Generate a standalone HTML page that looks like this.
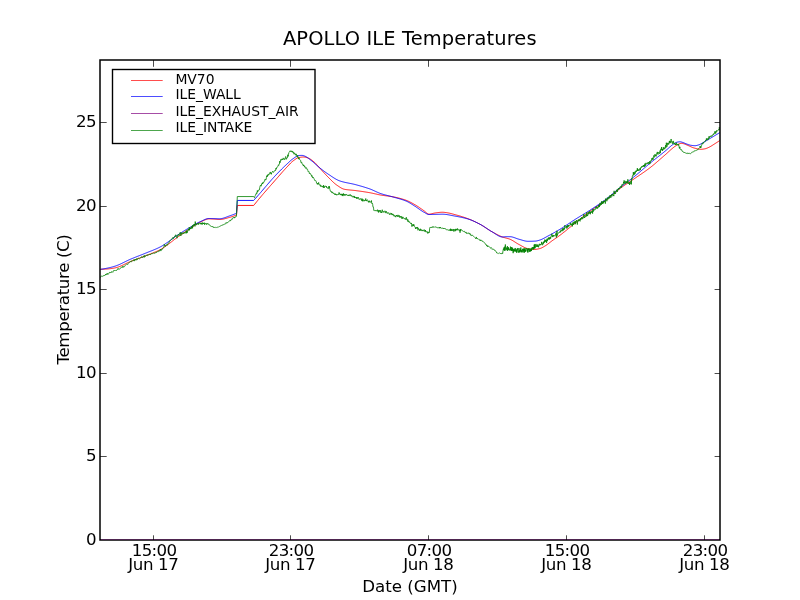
<!DOCTYPE html>
<html><head><meta charset="utf-8"><title>APOLLO ILE Temperatures</title>
<style>
html,body{margin:0;padding:0;background:#fff;}
svg{display:block;}
text{font-family:"DejaVu Sans","Liberation Sans",sans-serif;fill:#000;}
</style></head>
<body>
<svg width="800" height="600" viewBox="0 0 800 600">
<rect x="0" y="0" width="800" height="600" fill="#ffffff"/>
<defs><clipPath id="ax"><rect x="100" y="60" width="620" height="480"/></clipPath></defs>
<g clip-path="url(#ax)" fill="none" stroke-width="0.9" stroke-linejoin="round">
<polyline stroke="#ff0000" points="100.50,269.30 101.50,269.28 102.50,269.25 103.50,269.21 104.50,269.15 105.50,269.09 106.50,269.02 107.50,268.94 108.50,268.86 109.50,268.76 110.50,268.64 111.50,268.51 112.50,268.35 113.50,268.18 114.50,268.00 115.50,267.80 116.50,267.56 117.50,267.28 118.50,266.94 119.50,266.56 120.50,266.15 121.50,265.71 122.50,265.25 123.50,264.77 124.50,264.28 125.50,263.79 126.50,263.30 127.50,262.82 128.50,262.36 129.50,261.92 130.50,261.50 131.50,261.10 132.50,260.72 133.50,260.33 134.50,259.95 135.50,259.58 136.50,259.21 137.50,258.84 138.50,258.46 139.50,258.09 140.50,257.72 141.50,257.35 142.50,256.97 143.50,256.58 144.50,256.20 145.50,255.80 146.50,255.41 147.50,255.02 148.50,254.63 149.50,254.25 150.50,253.87 151.50,253.48 152.50,253.09 153.50,252.69 154.50,252.28 155.50,251.86 156.50,251.43 157.50,250.98 158.50,250.51 159.50,250.02 160.50,249.50 161.50,248.94 162.50,248.33 163.50,247.68 164.50,247.00 165.50,246.30 166.50,245.58 167.50,244.86 168.50,244.14 169.50,243.39 170.50,242.61 171.50,241.82 172.50,241.02 173.50,240.23 174.50,239.45 175.50,238.70 176.50,237.96 177.50,237.23 178.50,236.50 179.50,235.78 180.50,235.06 181.50,234.35 182.50,233.64 183.50,232.94 184.50,232.25 185.50,231.56 186.50,230.87 187.50,230.19 188.50,229.52 189.50,228.86 190.50,228.20 191.50,227.54 192.50,226.86 193.50,226.19 194.50,225.51 195.50,224.85 196.50,224.21 197.50,223.60 198.50,223.02 199.50,222.48 200.50,222.00 201.50,221.53 202.50,221.03 203.50,220.54 204.50,220.08 205.50,219.66 206.50,219.31 207.50,219.06 208.50,218.92 209.50,218.90 210.50,218.93 211.50,218.97 212.50,219.02 213.50,219.07 214.50,219.13 215.50,219.21 216.50,219.31 217.50,219.40 218.50,219.47 219.50,219.50 220.50,219.47 221.50,219.37 222.50,219.22 223.50,219.02 224.50,218.79 225.50,218.53 226.50,218.25 227.50,217.96 228.50,217.67 229.50,217.39 230.50,217.11 231.50,216.81 232.50,216.48 233.50,216.13 234.50,215.76 235.50,215.39 236.50,215.00 237.30,205.45 253.70,205.45 254.70,204.21 255.70,202.97 256.70,201.74 257.70,200.52 258.70,199.31 259.70,198.11 260.70,196.92 261.70,195.74 262.70,194.57 263.70,193.40 264.70,192.24 265.70,191.09 266.70,189.94 267.70,188.80 268.70,187.66 269.70,186.52 270.70,185.38 271.70,184.25 272.70,183.11 273.70,181.98 274.70,180.84 275.70,179.70 276.70,178.56 277.70,177.41 278.70,176.26 279.70,175.11 280.70,173.96 281.70,172.83 282.70,171.70 283.70,170.58 284.70,169.47 285.70,168.39 286.70,167.32 287.70,166.25 288.70,165.16 289.70,164.08 290.70,163.04 291.70,162.08 292.70,161.23 293.70,160.48 294.70,159.74 295.70,159.03 296.70,158.41 297.70,157.90 298.70,157.56 299.70,157.38 300.70,157.22 301.70,157.10 302.70,157.02 303.70,157.00 304.70,157.10 305.70,157.31 306.70,157.59 307.70,157.90 308.70,158.26 309.70,158.76 310.70,159.38 311.70,160.08 312.70,160.85 313.70,161.66 314.70,162.52 315.70,163.53 316.70,164.64 317.70,165.79 318.70,166.92 319.70,168.01 320.70,169.11 321.70,170.22 322.70,171.33 323.70,172.44 324.70,173.54 325.70,174.62 326.70,175.68 327.70,176.70 328.70,177.70 329.70,178.71 330.70,179.71 331.70,180.71 332.70,181.67 333.70,182.60 334.70,183.48 335.70,184.30 336.70,185.04 337.70,185.73 338.70,186.41 339.70,187.07 340.70,187.69 341.70,188.25 342.70,188.73 343.70,189.10 344.70,189.34 345.70,189.51 346.70,189.66 347.70,189.78 348.70,189.89 349.70,189.98 350.70,190.07 351.70,190.16 352.70,190.25 353.70,190.35 354.70,190.46 355.70,190.59 356.70,190.72 357.70,190.86 358.70,190.99 359.70,191.13 360.70,191.27 361.70,191.41 362.70,191.56 363.70,191.71 364.70,191.87 365.70,192.02 366.70,192.19 367.70,192.35 368.70,192.52 369.70,192.70 370.70,192.88 371.70,193.08 372.70,193.29 373.70,193.52 374.70,193.75 375.70,193.98 376.70,194.21 377.70,194.44 378.70,194.65 379.70,194.85 380.70,195.04 381.70,195.20 382.70,195.36 383.70,195.50 384.70,195.64 385.70,195.77 386.70,195.90 387.70,196.03 388.70,196.16 389.70,196.30 390.70,196.44 391.70,196.60 392.70,196.76 393.70,196.94 394.70,197.14 395.70,197.34 396.70,197.56 397.70,197.80 398.70,198.04 399.70,198.30 400.70,198.57 401.70,198.86 402.70,199.16 403.70,199.47 404.70,199.80 405.70,200.14 406.70,200.51 407.70,200.92 408.70,201.37 409.70,201.85 410.70,202.36 411.70,202.90 412.70,203.45 413.70,204.01 414.70,204.58 415.70,205.16 416.70,205.77 417.70,206.42 418.70,207.08 419.70,207.77 420.70,208.46 421.70,209.16 422.70,209.86 423.70,210.55 424.70,211.29 425.70,212.18 426.70,213.07 427.70,213.79 428.70,214.18 429.70,214.16 430.70,214.01 431.70,213.78 432.70,213.51 433.70,213.25 434.70,213.05 435.70,212.90 436.70,212.76 437.70,212.63 438.70,212.50 439.70,212.40 440.70,212.31 441.70,212.26 442.70,212.25 443.70,212.30 444.70,212.40 445.70,212.53 446.70,212.69 447.70,212.85 448.70,213.02 449.70,213.23 450.70,213.47 451.70,213.73 452.70,214.00 453.70,214.28 454.70,214.55 455.70,214.83 456.70,215.10 457.70,215.39 458.70,215.67 459.70,215.96 460.70,216.26 461.70,216.57 462.70,216.88 463.70,217.20 464.70,217.53 465.70,217.87 466.70,218.22 467.70,218.59 468.70,218.97 469.70,219.36 470.70,219.77 471.70,220.20 472.70,220.64 473.70,221.10 474.70,221.57 475.70,222.05 476.70,222.55 477.70,223.05 478.70,223.57 479.70,224.09 480.70,224.63 481.70,225.21 482.70,225.82 483.70,226.45 484.70,227.10 485.70,227.77 486.70,228.43 487.70,229.10 488.70,229.75 489.70,230.39 490.70,231.00 491.70,231.58 492.70,232.14 493.70,232.69 494.70,233.25 495.70,233.79 496.70,234.33 497.70,234.85 498.70,235.35 499.70,235.83 500.70,236.27 501.70,236.69 502.70,237.07 503.70,237.40 504.70,237.69 505.70,237.96 506.70,238.22 507.70,238.49 508.70,238.79 509.70,239.14 510.70,239.55 511.70,240.05 512.70,240.61 513.70,241.22 514.70,241.86 515.70,242.51 516.70,243.16 517.70,243.77 518.70,244.34 519.70,244.87 520.70,245.42 521.70,245.98 522.70,246.53 523.70,247.06 524.70,247.55 525.70,247.99 526.70,248.36 527.70,248.64 528.70,248.84 529.70,249.03 530.70,249.20 531.70,249.35 532.70,249.45 533.70,249.50 534.70,249.48 535.70,249.39 536.70,249.24 537.70,249.05 538.70,248.82 539.70,248.58 540.70,248.28 541.70,247.87 542.70,247.35 543.70,246.77 544.70,246.18 545.70,245.57 546.70,244.90 547.70,244.17 548.70,243.41 549.70,242.63 550.70,241.85 551.70,241.09 552.70,240.36 553.70,239.65 554.70,238.96 555.70,238.28 556.70,237.59 557.70,236.90 558.70,236.19 559.70,235.47 560.70,234.73 561.70,233.97 562.70,233.20 563.70,232.41 564.70,231.62 565.70,230.82 566.70,230.01 567.70,229.20 568.70,228.38 569.70,227.56 570.70,226.74 571.70,225.92 572.70,225.11 573.70,224.30 574.70,223.49 575.70,222.69 576.70,221.88 577.70,221.07 578.70,220.25 579.70,219.44 580.70,218.62 581.70,217.80 582.70,216.99 583.70,216.18 584.70,215.37 585.70,214.57 586.70,213.78 587.70,213.00 588.70,212.23 589.70,211.47 590.70,210.73 591.70,210.01 592.70,209.30 593.70,208.60 594.70,207.91 595.70,207.23 596.70,206.55 597.70,205.88 598.70,205.20 599.70,204.52 600.70,203.84 601.70,203.14 602.70,202.43 603.70,201.71 604.70,200.98 605.70,200.22 606.70,199.43 607.70,198.63 608.70,197.81 609.70,196.98 610.70,196.14 611.70,195.29 612.70,194.44 613.70,193.59 614.70,192.74 615.70,191.91 616.70,191.08 617.70,190.28 618.70,189.49 619.70,188.72 620.70,187.98 621.70,187.26 622.70,186.55 623.70,185.85 624.70,185.16 625.70,184.48 626.70,183.81 627.70,183.14 628.70,182.48 629.70,181.82 630.70,181.15 631.70,180.49 632.70,179.82 633.70,179.14 634.70,178.46 635.70,177.77 636.70,177.08 637.70,176.40 638.70,175.72 639.70,175.05 640.70,174.37 641.70,173.69 642.70,173.01 643.70,172.32 644.70,171.62 645.70,170.92 646.70,170.20 647.70,169.47 648.70,168.73 649.70,167.98 650.70,167.21 651.70,166.42 652.70,165.61 653.70,164.78 654.70,163.94 655.70,163.09 656.70,162.23 657.70,161.36 658.70,160.49 659.70,159.61 660.70,158.74 661.70,157.86 662.70,156.99 663.70,156.12 664.70,155.26 665.70,154.39 666.70,153.50 667.70,152.59 668.70,151.67 669.70,150.75 670.70,149.84 671.70,148.96 672.70,148.11 673.70,147.30 674.70,146.55 675.70,145.87 676.70,145.21 677.70,144.61 678.70,144.12 679.70,143.73 680.70,143.40 681.70,143.31 682.70,143.46 683.70,143.72 684.70,144.02 685.70,144.44 686.70,144.90 687.70,145.33 688.70,145.76 689.70,146.21 690.70,146.66 691.70,147.10 692.70,147.51 693.70,147.87 694.70,148.17 695.70,148.42 696.70,148.66 697.70,148.89 698.70,149.09 699.70,149.23 700.70,149.30 701.70,149.28 702.70,149.18 703.70,149.04 704.70,148.86 705.70,148.63 706.70,148.28 707.70,147.86 708.70,147.41 709.70,146.91 710.70,146.36 711.70,145.76 712.70,145.13 713.70,144.48 714.70,143.83 715.70,143.19 716.70,142.56 717.70,141.92 718.70,141.26 719.70,140.60 720.00,140.40"/>
<polyline stroke="#0000ff" points="100.50,269.30 101.50,269.17 102.50,269.02 103.50,268.86 104.50,268.68 105.50,268.50 106.50,268.31 107.50,268.10 108.50,267.89 109.50,267.67 110.50,267.43 111.50,267.18 112.50,266.91 113.50,266.62 114.50,266.32 115.50,266.00 116.50,265.66 117.50,265.28 118.50,264.87 119.50,264.44 120.50,263.98 121.50,263.51 122.50,263.03 123.50,262.54 124.50,262.04 125.50,261.54 126.50,261.05 127.50,260.57 128.50,260.09 129.50,259.64 130.50,259.20 131.50,258.78 132.50,258.37 133.50,257.96 134.50,257.56 135.50,257.16 136.50,256.76 137.50,256.37 138.50,255.98 139.50,255.59 140.50,255.20 141.50,254.81 142.50,254.41 143.50,254.01 144.50,253.61 145.50,253.20 146.50,252.79 147.50,252.39 148.50,251.99 149.50,251.60 150.50,251.20 151.50,250.81 152.50,250.41 153.50,250.00 154.50,249.59 155.50,249.16 156.50,248.73 157.50,248.27 158.50,247.80 159.50,247.31 160.50,246.80 161.50,246.25 162.50,245.66 163.50,245.04 164.50,244.38 165.50,243.71 166.50,243.03 167.50,242.34 168.50,241.65 169.50,240.94 170.50,240.20 171.50,239.44 172.50,238.68 173.50,237.93 174.50,237.20 175.50,236.50 176.50,235.82 177.50,235.14 178.50,234.48 179.50,233.82 180.50,233.17 181.50,232.52 182.50,231.88 183.50,231.25 184.50,230.62 185.50,230.00 186.50,229.39 187.50,228.78 188.50,228.18 189.50,227.59 190.50,227.00 191.50,226.41 192.50,225.81 193.50,225.22 194.50,224.63 195.50,224.05 196.50,223.49 197.50,222.95 198.50,222.43 199.50,221.95 200.50,221.50 201.50,221.05 202.50,220.58 203.50,220.11 204.50,219.65 205.50,219.24 206.50,218.90 207.50,218.65 208.50,218.52 209.50,218.50 210.50,218.51 211.50,218.54 212.50,218.56 213.50,218.59 214.50,218.61 215.50,218.65 216.50,218.68 217.50,218.72 218.50,218.74 219.50,218.75 220.50,218.70 221.50,218.57 222.50,218.36 223.50,218.09 224.50,217.77 225.50,217.41 226.50,217.04 227.50,216.66 228.50,216.28 229.50,215.92 230.50,215.58 231.50,215.23 232.50,214.86 233.50,214.48 234.50,214.09 235.50,213.70 236.50,213.30 237.30,200.45 253.70,200.45 254.70,199.31 255.70,198.17 256.70,197.03 257.70,195.88 258.70,194.74 259.70,193.59 260.70,192.45 261.70,191.29 262.70,190.12 263.70,188.95 264.70,187.77 265.70,186.59 266.70,185.42 267.70,184.24 268.70,183.08 269.70,181.92 270.70,180.77 271.70,179.63 272.70,178.51 273.70,177.41 274.70,176.32 275.70,175.26 276.70,174.20 277.70,173.16 278.70,172.12 279.70,171.10 280.70,170.09 281.70,169.09 282.70,168.10 283.70,167.13 284.70,166.17 285.70,165.22 286.70,164.28 287.70,163.34 288.70,162.40 289.70,161.46 290.70,160.55 291.70,159.71 292.70,158.96 293.70,158.27 294.70,157.55 295.70,156.86 296.70,156.25 297.70,155.79 298.70,155.53 299.70,155.46 300.70,155.42 301.70,155.40 302.70,155.46 303.70,155.73 304.70,156.09 305.70,156.50 306.70,157.06 307.70,157.73 308.70,158.49 309.70,159.28 310.70,160.07 311.70,160.85 312.70,161.68 313.70,162.56 314.70,163.46 315.70,164.37 316.70,165.27 317.70,166.16 318.70,167.01 319.70,167.81 320.70,168.61 321.70,169.40 322.70,170.18 323.70,170.94 324.70,171.69 325.70,172.41 326.70,173.12 327.70,173.80 328.70,174.47 329.70,175.14 330.70,175.81 331.70,176.49 332.70,177.15 333.70,177.79 334.70,178.41 335.70,179.00 336.70,179.55 337.70,180.05 338.70,180.50 339.70,180.90 340.70,181.23 341.70,181.53 342.70,181.81 343.70,182.06 344.70,182.30 345.70,182.52 346.70,182.73 347.70,182.93 348.70,183.13 349.70,183.33 350.70,183.53 351.70,183.73 352.70,183.95 353.70,184.18 354.70,184.42 355.70,184.68 356.70,184.95 357.70,185.22 358.70,185.49 359.70,185.77 360.70,186.05 361.70,186.34 362.70,186.63 363.70,186.93 364.70,187.24 365.70,187.55 366.70,187.88 367.70,188.21 368.70,188.54 369.70,188.89 370.70,189.26 371.70,189.66 372.70,190.10 373.70,190.55 374.70,191.01 375.70,191.48 376.70,191.95 377.70,192.39 378.70,192.82 379.70,193.21 380.70,193.57 381.70,193.89 382.70,194.20 383.70,194.50 384.70,194.78 385.70,195.05 386.70,195.31 387.70,195.57 388.70,195.82 389.70,196.08 390.70,196.34 391.70,196.60 392.70,196.88 393.70,197.16 394.70,197.45 395.70,197.74 396.70,198.02 397.70,198.30 398.70,198.57 399.70,198.86 400.70,199.15 401.70,199.46 402.70,199.78 403.70,200.12 404.70,200.49 405.70,200.88 406.70,201.30 407.70,201.79 408.70,202.33 409.70,202.90 410.70,203.51 411.70,204.14 412.70,204.78 413.70,205.43 414.70,206.06 415.70,206.70 416.70,207.37 417.70,208.07 418.70,208.78 419.70,209.50 420.70,210.20 421.70,210.87 422.70,211.51 423.70,212.09 424.70,212.64 425.70,213.24 426.70,213.81 427.70,214.25 428.70,214.49 429.70,214.50 430.70,214.49 431.70,214.47 432.70,214.45 433.70,214.43 434.70,214.41 435.70,214.38 436.70,214.35 437.70,214.32 438.70,214.28 439.70,214.25 440.70,214.22 441.70,214.20 442.70,214.20 443.70,214.23 444.70,214.30 445.70,214.40 446.70,214.54 447.70,214.69 448.70,214.87 449.70,215.06 450.70,215.26 451.70,215.46 452.70,215.66 453.70,215.85 454.70,216.04 455.70,216.22 456.70,216.40 457.70,216.59 458.70,216.78 459.70,216.98 460.70,217.18 461.70,217.40 462.70,217.62 463.70,217.85 464.70,218.10 465.70,218.36 466.70,218.63 467.70,218.91 468.70,219.22 469.70,219.55 470.70,219.92 471.70,220.31 472.70,220.72 473.70,221.16 474.70,221.62 475.70,222.09 476.70,222.58 477.70,223.08 478.70,223.58 479.70,224.10 480.70,224.62 481.70,225.19 482.70,225.79 483.70,226.42 484.70,227.07 485.70,227.74 486.70,228.41 487.70,229.08 488.70,229.74 489.70,230.38 490.70,231.00 491.70,231.58 492.70,232.15 493.70,232.78 494.70,233.44 495.70,234.11 496.70,234.76 497.70,235.37 498.70,235.92 499.70,236.38 500.70,236.73 501.70,236.94 502.70,237.00 503.70,236.92 504.70,236.79 505.70,236.71 506.70,236.70 507.70,236.70 508.70,236.70 509.70,236.70 510.70,236.73 511.70,236.87 512.70,237.11 513.70,237.41 514.70,237.76 515.70,238.14 516.70,238.51 517.70,238.87 518.70,239.17 519.70,239.44 520.70,239.72 521.70,240.03 522.70,240.33 523.70,240.61 524.70,240.87 525.70,241.08 526.70,241.22 527.70,241.30 528.70,241.30 529.70,241.29 530.70,241.27 531.70,241.25 532.70,241.22 533.70,241.18 534.70,241.14 535.70,241.09 536.70,240.95 537.70,240.71 538.70,240.42 539.70,240.10 540.70,239.76 541.70,239.35 542.70,238.88 543.70,238.37 544.70,237.83 545.70,237.27 546.70,236.71 547.70,236.16 548.70,235.63 549.70,235.10 550.70,234.56 551.70,234.01 552.70,233.46 553.70,232.90 554.70,232.34 555.70,231.77 556.70,231.20 557.70,230.61 558.70,230.03 559.70,229.43 560.70,228.83 561.70,228.21 562.70,227.58 563.70,226.94 564.70,226.29 565.70,225.63 566.70,224.97 567.70,224.30 568.70,223.64 569.70,222.97 570.70,222.30 571.70,221.64 572.70,220.98 573.70,220.33 574.70,219.69 575.70,219.06 576.70,218.43 577.70,217.81 578.70,217.19 579.70,216.58 580.70,215.97 581.70,215.36 582.70,214.75 583.70,214.14 584.70,213.53 585.70,212.92 586.70,212.30 587.70,211.67 588.70,211.04 589.70,210.39 590.70,209.75 591.70,209.10 592.70,208.45 593.70,207.80 594.70,207.14 595.70,206.48 596.70,205.82 597.70,205.15 598.70,204.47 599.70,203.79 600.70,203.10 601.70,202.39 602.70,201.68 603.70,200.96 604.70,200.22 605.70,199.47 606.70,198.70 607.70,197.90 608.70,197.09 609.70,196.27 610.70,195.43 611.70,194.58 612.70,193.73 613.70,192.87 614.70,192.02 615.70,191.17 616.70,190.32 617.70,189.48 618.70,188.65 619.70,187.84 620.70,187.04 621.70,186.26 622.70,185.48 623.70,184.71 624.70,183.95 625.70,183.18 626.70,182.43 627.70,181.67 628.70,180.91 629.70,180.15 630.70,179.38 631.70,178.61 632.70,177.83 633.70,177.04 634.70,176.24 635.70,175.43 636.70,174.60 637.70,173.77 638.70,172.92 639.70,172.07 640.70,171.21 641.70,170.34 642.70,169.48 643.70,168.61 644.70,167.75 645.70,166.88 646.70,166.03 647.70,165.17 648.70,164.33 649.70,163.50 650.70,162.68 651.70,161.86 652.70,161.05 653.70,160.25 654.70,159.45 655.70,158.66 656.70,157.87 657.70,157.08 658.70,156.29 659.70,155.50 660.70,154.71 661.70,153.91 662.70,153.11 663.70,152.31 664.70,151.49 665.70,150.66 666.70,149.79 667.70,148.90 668.70,147.99 669.70,147.09 670.70,146.22 671.70,145.39 672.70,144.63 673.70,143.94 674.70,143.31 675.70,142.71 676.70,142.28 677.70,142.06 678.70,141.89 679.70,141.81 680.70,141.86 681.70,142.09 682.70,142.41 683.70,142.75 684.70,143.19 685.70,143.64 686.70,144.01 687.70,144.38 688.70,144.72 689.70,145.02 690.70,145.25 691.70,145.40 692.70,145.54 693.70,145.64 694.70,145.70 695.70,145.66 696.70,145.48 697.70,145.21 698.70,144.90 699.70,144.53 700.70,144.03 701.70,143.46 702.70,142.89 703.70,142.32 704.70,141.74 705.70,141.13 706.70,140.52 707.70,139.91 708.70,139.29 709.70,138.68 710.70,138.08 711.70,137.48 712.70,136.88 713.70,136.28 714.70,135.68 715.70,135.08 716.70,134.48 717.70,133.88 718.70,133.28 719.70,132.68 720.00,132.50"/>
<polyline stroke="#800080" points="100,540 720,540" stroke-width="1.4"/>
<polyline stroke="#008000" stroke-width="0.8" points="100.50,277.56 100.90,276.44 101.30,276.14 101.70,276.34 102.10,276.64 102.50,276.30 102.90,276.10 103.30,275.60 103.70,275.81 104.10,275.45 104.50,275.98 104.90,275.14 105.30,274.89 105.70,274.10 106.10,275.06 106.50,274.24 106.90,273.52 107.30,274.33 107.70,273.38 108.10,274.42 108.50,273.97 108.90,273.34 109.30,272.48 109.70,272.27 110.10,273.03 110.50,272.50 110.90,272.61 111.30,272.50 111.70,271.57 112.10,272.26 112.50,271.82 112.90,272.22 113.30,271.34 113.70,270.47 114.10,270.97 114.50,270.56 114.90,270.64 115.30,270.06 115.70,270.46 116.10,270.87 116.50,270.18 116.90,270.18 117.30,269.58 117.70,268.67 118.10,269.47 118.50,268.68 118.90,268.77 119.30,269.30 119.70,269.06 120.10,268.62 120.50,267.82 120.90,267.89 121.30,267.56 121.70,267.29 122.10,267.47 122.50,266.43 122.90,267.50 123.30,266.70 123.70,267.16 124.10,265.94 124.50,266.36 124.90,265.88 125.30,265.36 125.70,264.89 126.10,264.63 126.50,264.14 126.90,264.21 127.30,264.32 127.70,264.65 128.10,263.56 128.50,262.89 128.90,262.75 129.30,262.43 129.70,262.53 130.10,262.25 130.50,261.40 130.90,261.48 131.30,261.83 131.70,260.85 132.10,260.99 132.50,260.92 132.90,260.49 133.30,260.69 133.70,259.70 134.10,260.83 134.50,260.94 134.90,259.30 135.30,260.18 135.70,259.26 136.10,259.70 136.50,260.20 136.90,258.53 137.30,259.27 137.70,259.40 138.10,258.27 138.50,258.24 138.90,258.41 139.30,258.74 139.70,258.59 140.10,258.27 140.50,257.65 140.90,257.90 141.30,257.63 141.70,256.60 142.10,257.17 142.50,257.65 142.90,257.11 143.30,256.50 143.70,255.77 144.10,257.47 144.50,255.53 144.90,256.52 145.30,256.50 145.70,255.99 146.10,255.12 146.50,255.01 146.90,255.61 147.30,255.69 147.70,254.68 148.10,254.91 148.50,255.13 148.90,254.52 149.30,254.38 149.70,254.53 150.10,254.46 150.50,255.03 150.90,254.02 151.30,253.89 151.70,253.39 152.10,253.73 152.50,253.54 152.90,253.78 153.30,253.26 153.70,252.95 154.10,253.22 154.50,253.42 154.90,252.51 155.30,252.73 155.70,253.02 156.10,252.29 156.50,252.70 156.90,251.69 157.30,251.71 157.70,251.51 158.10,251.45 158.50,251.68 158.90,250.83 159.30,250.40 159.70,251.20 160.10,250.91 160.45,249.17 160.80,250.52 161.15,250.68 161.50,249.59 161.85,249.00 162.20,249.41 162.55,249.04 162.90,248.00 163.25,247.79 163.60,247.55 163.95,247.12 164.30,244.34 164.65,245.74 165.00,246.32 165.35,246.39 165.70,245.09 166.05,245.69 166.40,245.03 166.75,244.45 167.10,244.97 167.45,245.12 167.80,243.69 168.15,243.56 168.50,242.92 168.85,243.23 169.20,242.22 169.55,241.19 169.90,240.67 170.25,240.79 170.60,240.08 170.95,239.90 171.30,239.66 171.65,239.19 172.00,239.46 172.35,238.37 172.70,237.86 173.05,237.23 173.40,238.58 173.75,237.41 174.10,237.41 174.45,237.18 174.80,235.87 175.15,236.41 175.45,236.19 175.75,234.75 176.05,235.37 176.35,236.30 176.65,236.52 176.95,238.26 177.25,237.48 177.55,235.30 177.85,235.35 178.15,234.97 178.45,234.28 178.75,235.58 179.05,235.86 179.35,234.09 179.65,233.85 179.95,233.96 180.25,232.19 180.55,234.41 180.85,235.96 181.15,234.06 181.45,232.78 181.75,233.85 182.05,234.31 182.35,233.36 182.65,232.61 182.95,233.39 183.25,233.18 183.55,233.40 183.85,233.92 184.15,232.13 184.45,232.61 184.75,232.82 185.05,233.14 185.35,232.46 185.65,233.16 185.95,232.36 186.25,230.45 186.55,233.24 186.85,231.02 187.15,232.52 187.45,232.64 187.75,230.29 188.05,229.37 188.35,229.86 188.65,229.09 188.95,230.69 189.25,227.19 189.55,229.99 189.85,228.70 190.15,227.69 190.45,228.83 190.75,227.77 191.05,229.02 191.35,228.18 191.65,226.49 191.95,227.21 192.25,226.11 192.55,228.33 192.85,224.99 193.15,226.33 193.45,225.77 193.75,224.56 194.05,224.00 194.35,224.72 194.65,223.95 194.95,226.43 195.25,221.57 195.55,224.27 195.85,223.81 196.15,224.78 196.45,225.04 196.75,223.99 197.05,223.70 197.35,223.44 197.65,223.91 197.95,224.49 198.25,223.06 198.55,224.40 198.85,224.29 199.15,223.48 199.45,223.35 199.75,223.53 200.05,223.81 200.35,223.35 200.65,224.17 200.95,222.85 201.25,224.14 201.55,222.93 201.85,223.86 202.15,224.61 202.45,222.58 202.75,223.19 203.05,224.01 203.35,222.93 203.65,223.89 203.95,223.20 204.25,222.66 204.55,224.70 204.85,223.60 205.15,223.12 205.45,223.57 205.75,223.34 206.05,223.33 206.35,224.62 206.65,223.55 206.95,224.18 207.25,224.03 207.55,224.01 207.85,223.28 208.15,223.88 208.55,224.34 208.95,225.00 209.35,224.75 209.75,224.97 210.15,225.77 210.55,226.05 210.95,226.15 211.35,226.45 211.75,226.44 212.15,226.95 212.55,226.42 212.95,227.25 213.35,226.88 213.75,227.73 214.15,227.28 214.55,227.44 214.95,227.40 215.35,227.29 215.75,227.62 216.15,227.46 216.55,227.61 216.95,227.21 217.35,227.04 217.75,227.38 218.15,227.00 218.55,227.19 218.95,226.76 219.35,226.35 219.75,226.45 220.15,226.22 220.55,225.98 220.95,225.73 221.35,225.27 221.75,225.51 222.15,224.93 222.55,224.98 222.95,225.29 223.35,224.64 223.75,224.75 224.15,224.20 224.55,224.09 224.95,223.90 225.35,223.89 225.75,223.70 226.15,222.52 226.55,223.19 226.95,222.99 227.35,222.26 227.75,222.70 228.15,222.37 228.55,221.75 228.95,221.33 229.35,220.80 229.75,220.88 230.15,221.02 230.45,219.97 230.75,220.35 231.05,220.14 231.35,219.44 231.65,218.96 231.95,219.21 232.25,219.33 232.55,218.36 232.85,217.87 233.15,217.77 233.45,218.10 233.75,217.36 234.05,217.58 234.35,216.97 234.65,217.92 234.95,217.65 235.25,217.49 235.55,216.69 235.85,216.74 236.15,216.35 236.45,216.36 237.30,196.55 253.70,196.55 253.70,196.55 254.20,197.46 254.55,197.75 254.90,196.24 255.25,195.63 255.60,195.05 255.95,193.70 256.30,194.04 256.65,192.74 257.00,193.31 257.35,190.53 257.70,191.91 258.05,190.94 258.40,190.04 258.75,190.27 259.10,189.64 259.45,189.79 259.80,187.26 260.15,186.09 260.50,185.15 260.85,185.65 261.20,186.16 261.55,184.05 261.90,184.39 262.25,182.99 262.60,183.98 262.95,182.32 263.30,183.15 263.65,182.49 264.00,181.90 264.35,180.91 264.70,180.94 265.05,179.07 265.40,179.45 265.75,180.07 266.10,179.42 266.45,177.27 266.80,175.73 267.15,176.94 267.50,174.85 267.85,175.87 268.20,174.44 268.55,174.07 268.90,174.87 269.25,173.43 269.60,173.46 269.95,172.73 270.30,171.96 270.65,173.55 271.00,173.05 271.35,174.31 271.70,172.74 272.05,171.96 272.40,171.95 272.75,171.20 273.10,171.84 273.45,172.40 273.80,172.10 274.15,171.30 274.50,171.02 274.85,170.49 275.20,170.10 275.55,170.55 275.90,168.25 276.25,169.17 276.60,167.96 276.95,167.11 277.30,167.10 277.65,166.57 278.00,166.28 278.35,164.91 278.70,165.42 279.05,164.02 279.40,163.98 279.75,161.10 280.10,162.66 280.45,161.35 280.80,159.53 281.15,160.25 281.50,159.16 281.85,159.10 282.20,158.96 282.55,159.94 282.90,159.08 283.25,157.90 283.60,158.37 283.95,159.45 284.30,158.74 284.65,159.61 285.00,159.22 285.35,157.65 285.70,156.49 286.05,158.10 286.40,159.29 286.75,158.09 287.10,157.50 287.45,157.66 287.80,154.69 288.15,156.42 288.50,154.52 288.85,152.59 289.20,152.27 289.55,151.67 289.90,150.87 290.25,151.04 290.60,151.50 290.95,150.72 291.30,151.80 291.65,151.86 292.00,150.93 292.35,151.53 292.70,151.03 293.05,152.97 293.40,152.29 293.75,153.62 294.10,154.28 294.45,152.80 294.80,153.56 295.15,153.70 295.50,154.97 295.85,155.24 296.20,153.87 296.55,155.51 296.90,155.51 297.25,157.31 297.60,155.43 297.95,156.53 298.30,157.80 298.65,159.12 299.00,157.67 299.35,158.27 299.70,159.64 300.05,160.01 300.35,160.30 300.65,160.40 300.95,162.50 301.25,162.55 301.55,161.96 301.85,162.83 302.15,163.95 302.45,164.39 302.75,164.38 303.05,164.41 303.35,166.05 303.65,164.91 303.95,165.69 304.25,165.69 304.55,166.87 304.85,166.37 305.15,167.61 305.45,168.21 305.75,168.28 306.05,167.45 306.35,168.31 306.65,168.43 306.95,169.26 307.25,168.89 307.55,169.45 307.85,170.52 308.15,171.55 308.45,171.94 308.75,171.44 309.05,171.82 309.35,173.40 309.65,173.93 309.95,173.19 310.25,173.46 310.55,173.73 310.85,174.61 311.15,175.36 311.45,175.10 311.75,176.41 312.05,175.66 312.35,177.14 312.65,178.06 312.95,177.74 313.25,177.18 313.55,177.77 313.85,178.55 314.15,178.74 314.45,179.74 314.75,180.56 315.05,180.63 315.35,180.68 315.65,180.49 315.95,180.89 316.25,181.60 316.55,183.01 316.85,183.34 317.15,184.14 317.45,183.38 317.75,184.43 318.05,183.17 318.35,183.71 318.65,182.43 318.95,184.30 319.25,184.97 319.55,185.15 319.85,184.63 320.15,184.76 320.45,186.27 320.75,185.40 321.05,186.67 321.35,186.31 321.65,186.06 321.95,186.30 322.25,186.98 322.55,186.32 322.85,186.98 323.15,187.45 323.45,185.15 323.75,187.76 324.05,186.53 324.35,187.60 324.65,186.89 324.95,185.86 325.25,186.30 325.55,186.16 325.85,186.37 326.15,186.83 326.45,186.13 326.75,187.76 327.05,187.29 327.35,188.15 327.65,188.44 327.95,188.38 328.25,188.53 328.55,188.62 328.85,186.23 329.15,187.92 329.45,186.43 329.75,189.18 330.05,189.72 330.35,191.14 330.65,191.44 330.95,191.65 331.25,191.19 331.55,191.91 331.85,192.79 332.15,193.10 332.45,191.87 332.75,192.29 333.05,193.25 333.35,193.36 333.65,193.58 333.95,193.16 334.25,193.79 334.55,194.49 334.85,194.65 335.15,193.55 335.45,193.88 335.75,194.97 336.05,194.17 336.35,195.20 336.65,195.03 336.95,194.32 337.25,194.56 337.55,194.68 337.85,194.47 338.15,194.43 338.45,194.72 338.75,193.72 339.05,192.42 339.35,194.21 339.65,193.54 339.95,194.53 340.25,194.28 340.55,194.96 340.85,194.29 341.15,195.21 341.45,193.85 341.75,194.44 342.05,194.06 342.35,196.05 342.65,193.88 342.95,194.92 343.25,195.20 343.55,193.48 343.85,195.73 344.15,195.46 344.45,194.20 344.75,194.58 345.05,195.44 345.35,194.38 345.65,195.19 345.95,194.73 346.25,194.98 346.55,194.42 346.85,195.07 347.15,195.27 347.45,195.25 347.75,195.51 348.05,195.93 348.35,194.86 348.65,195.26 348.95,196.03 349.25,194.88 349.55,194.76 349.85,195.43 350.15,195.25 350.45,194.61 350.75,195.81 351.05,195.69 351.35,196.19 351.65,195.41 351.95,195.84 352.25,197.07 352.55,196.92 352.85,196.70 353.15,196.89 353.45,196.38 353.75,195.91 354.05,197.47 354.35,196.31 354.65,197.93 354.95,196.82 355.25,197.31 355.55,197.70 355.85,197.10 356.15,197.90 356.45,198.66 356.75,197.13 357.05,198.12 357.35,197.60 357.65,198.59 357.95,198.61 358.25,197.26 358.55,198.23 358.85,198.66 359.15,199.48 359.45,199.09 359.75,199.24 360.05,199.45 360.35,198.60 360.65,199.15 360.95,199.27 361.25,198.73 361.55,199.75 361.85,200.83 362.15,198.65 362.45,201.27 362.75,199.73 363.05,199.32 363.35,199.68 363.65,199.95 363.95,201.31 364.25,200.05 364.55,200.11 364.85,200.77 365.15,200.27 365.45,200.42 365.75,198.54 366.05,200.72 366.35,200.06 366.65,200.92 366.95,200.63 367.25,199.69 367.55,199.88 367.85,200.53 368.15,201.92 368.45,202.13 368.75,201.16 369.05,202.43 369.35,200.87 369.65,200.86 369.95,202.05 370.25,202.28 370.55,202.06 370.85,202.02 371.15,202.10 371.45,200.50 371.75,203.39 372.05,203.74 372.35,203.24 372.65,204.25 372.95,206.83 373.25,206.82 373.55,208.11 373.85,210.60 374.15,210.82 374.45,210.53 374.75,210.22 375.05,210.73 375.35,210.74 375.65,210.72 375.95,210.15 376.25,210.85 376.55,210.78 376.85,210.83 377.15,210.64 377.45,209.71 377.75,211.49 378.05,211.29 378.35,210.49 378.65,212.53 378.95,210.11 379.25,210.37 379.55,210.81 379.85,211.64 380.15,210.01 380.45,211.98 380.75,212.49 381.05,211.84 381.35,213.01 381.65,211.50 381.95,211.35 382.25,209.73 382.55,211.62 382.85,212.40 383.15,211.84 383.45,211.73 383.75,211.23 384.05,212.42 384.35,211.96 384.65,211.64 384.95,210.80 385.25,211.15 385.55,211.82 385.85,213.11 386.15,211.14 386.45,211.60 386.75,212.52 387.05,212.86 387.35,213.51 387.65,212.67 387.95,213.02 388.25,212.85 388.55,212.98 388.85,212.69 389.15,213.89 389.45,214.63 389.75,213.69 390.05,213.46 390.35,213.32 390.65,213.29 390.95,214.66 391.25,213.98 391.55,213.13 391.85,214.60 392.15,214.44 392.45,215.02 392.75,213.85 393.05,214.53 393.35,215.52 393.65,214.63 393.95,215.03 394.25,216.40 394.55,215.63 394.85,216.08 395.15,216.07 395.45,216.11 395.75,217.15 396.05,215.74 396.35,215.00 396.65,216.10 396.95,215.69 397.25,215.45 397.55,216.67 397.85,215.81 398.15,214.92 398.45,216.57 398.75,216.48 399.05,216.39 399.35,215.49 399.65,216.99 399.95,217.67 400.25,216.16 400.55,217.14 400.85,216.80 401.15,216.63 401.45,217.43 401.75,216.41 402.05,219.03 402.35,217.32 402.65,218.09 402.95,217.40 403.25,217.25 403.55,217.73 403.85,218.51 404.15,218.90 404.45,218.45 404.75,218.82 405.05,219.30 405.35,218.49 405.65,218.75 405.95,219.60 406.25,217.24 406.55,217.80 406.85,219.71 407.15,219.67 407.45,220.50 407.75,219.34 408.05,221.88 408.35,220.84 408.65,220.84 408.95,221.90 409.25,222.41 409.55,221.73 409.85,222.45 410.15,222.77 410.45,223.35 410.75,223.12 411.05,223.75 411.35,222.96 411.65,224.21 411.95,226.64 412.25,224.62 412.55,225.32 412.85,225.39 413.15,224.42 413.45,226.06 413.75,224.34 414.05,224.87 414.35,226.37 414.65,226.57 414.95,226.76 415.25,227.46 415.55,228.95 415.85,228.01 416.15,227.02 416.45,227.85 416.75,227.75 417.05,228.73 417.35,227.72 417.65,226.97 417.95,230.29 418.25,229.53 418.55,228.41 418.85,229.07 419.15,229.63 419.45,229.61 419.75,230.93 420.05,229.81 420.35,228.78 420.65,230.45 420.95,229.56 421.25,229.63 421.55,229.78 421.85,230.97 422.15,231.04 422.45,230.00 422.75,230.15 423.05,231.10 423.35,230.95 423.65,230.43 423.95,229.67 424.25,229.66 424.55,231.43 424.85,231.28 425.15,231.22 425.45,230.04 425.75,232.08 426.05,231.62 426.35,231.66 426.65,232.06 426.95,232.10 427.25,231.56 427.55,232.95 427.85,233.53 428.15,232.01 428.45,232.61 428.75,231.87 429.05,232.39 429.35,232.68 429.65,228.22 429.95,227.54 430.25,227.02 430.65,227.49 431.05,227.34 431.45,226.93 431.85,227.81 432.25,226.86 432.65,227.20 433.05,226.47 433.45,227.22 433.85,227.30 434.25,226.83 434.65,227.25 435.05,227.21 435.45,227.04 435.85,226.70 436.25,227.22 436.65,227.17 437.05,227.83 437.45,227.72 437.85,227.81 438.25,227.54 438.65,227.76 439.05,228.26 439.45,227.17 439.85,228.11 440.25,227.01 440.65,228.03 441.05,227.86 441.45,228.21 441.85,228.44 442.25,228.27 442.65,228.18 443.05,228.42 443.45,228.97 443.85,227.99 444.25,228.69 444.65,228.41 445.05,228.90 445.45,228.80 445.85,228.83 446.25,229.53 446.65,230.02 447.05,229.94 447.45,229.85 447.85,229.55 448.25,229.79 448.65,230.42 449.05,229.75 449.30,229.79 449.55,230.38 449.80,230.52 450.05,229.63 450.30,230.20 450.55,228.72 450.80,231.04 451.05,229.62 451.30,230.84 451.55,230.49 451.80,228.97 452.05,229.73 452.30,229.94 452.55,230.73 452.80,230.47 453.05,229.51 453.30,228.99 453.55,230.74 453.80,231.47 454.05,229.55 454.30,229.67 454.55,229.76 454.80,229.44 455.05,231.24 455.30,229.50 455.55,229.23 455.80,230.71 456.05,228.79 456.30,229.57 456.55,229.28 456.80,230.12 457.05,229.15 457.30,229.39 457.55,228.50 457.80,230.20 458.05,230.01 458.30,229.88 458.55,229.61 458.80,229.72 459.05,230.35 459.30,229.97 459.55,230.37 459.80,229.75 460.05,232.69 460.30,229.31 460.55,230.92 460.80,229.36 461.05,229.42 461.45,229.65 461.85,230.28 462.25,230.91 462.65,230.88 463.05,231.19 463.45,231.58 463.85,231.15 464.25,231.11 464.65,231.90 465.05,232.57 465.45,232.67 465.85,231.94 466.25,232.22 466.65,233.51 467.05,233.66 467.45,232.86 467.85,233.30 468.25,233.26 468.65,232.78 469.05,233.67 469.45,234.14 469.85,233.22 470.25,234.66 470.65,234.20 471.05,235.58 471.45,234.98 471.85,235.68 472.25,235.46 472.65,235.38 473.05,235.68 473.45,236.25 473.85,236.62 474.25,237.02 474.65,237.40 475.05,237.72 475.45,238.04 475.85,238.77 476.25,236.94 476.65,238.23 477.05,238.98 477.45,238.45 477.85,238.68 478.25,239.31 478.65,238.90 479.05,239.30 479.45,239.83 479.85,239.96 480.25,240.93 480.65,239.85 481.05,240.00 481.45,240.38 481.85,240.53 482.25,241.52 482.65,241.18 483.05,241.41 483.45,242.02 483.85,242.29 484.25,242.36 484.65,242.77 485.05,243.56 485.45,244.41 485.85,244.11 486.25,244.48 486.65,245.84 487.05,245.07 487.45,246.90 487.85,246.30 488.25,246.19 488.65,246.31 489.05,246.38 489.45,247.09 489.85,247.57 490.25,247.92 490.65,248.24 491.05,247.40 491.45,247.81 491.85,248.48 492.25,249.43 492.65,249.00 493.05,248.98 493.45,249.25 493.85,249.28 494.25,250.09 494.65,250.08 495.05,250.95 495.45,250.88 495.85,251.19 496.25,251.77 496.65,252.94 497.05,253.28 497.45,253.08 497.85,253.39 498.25,253.60 498.65,253.20 499.05,253.04 499.45,252.84 499.85,253.00 500.25,253.60 500.65,253.52 501.05,253.12 501.45,253.79 501.85,253.56 502.25,252.90 502.65,253.61 503.05,250.43 503.45,248.78 503.85,249.85 504.00,247.42 504.15,249.09 504.30,250.96 504.45,248.28 504.60,249.52 504.75,246.67 504.90,248.00 505.05,248.20 505.20,247.11 505.35,244.47 505.50,247.71 505.65,248.97 505.80,250.52 505.95,248.58 506.10,248.81 506.25,248.66 506.40,247.69 506.55,247.64 506.70,248.94 506.85,249.91 507.00,248.56 507.15,248.73 507.30,246.59 507.45,246.09 507.60,250.95 507.75,248.55 507.90,248.00 508.05,248.59 508.20,247.83 508.35,249.32 508.50,247.32 508.65,249.81 508.80,250.09 508.95,248.56 509.10,249.05 509.25,249.55 509.40,249.60 509.55,249.84 509.70,250.43 509.85,249.60 510.00,248.99 510.15,249.50 510.30,248.24 510.45,246.63 510.60,249.79 510.75,249.25 510.90,250.39 511.05,249.30 511.20,248.33 511.35,251.02 511.50,249.68 511.65,247.00 511.80,249.76 511.95,249.16 512.10,249.70 512.25,250.77 512.40,250.21 512.55,247.76 512.70,250.62 512.85,250.34 513.00,249.40 513.15,253.17 513.30,249.51 513.45,251.59 513.60,251.66 513.75,250.39 513.90,248.99 514.05,248.73 514.20,251.21 514.35,249.56 514.50,251.14 514.65,250.34 514.80,249.70 514.95,251.29 515.10,249.94 515.25,247.97 515.40,249.96 515.55,249.84 515.70,251.62 515.85,250.60 516.00,250.08 516.15,250.82 516.30,249.31 516.45,249.89 516.60,252.65 516.75,250.84 516.90,252.34 517.05,251.28 517.20,248.58 517.35,250.15 517.50,250.42 517.65,248.67 517.80,247.99 517.95,248.56 518.10,250.48 518.25,251.18 518.40,252.35 518.55,251.57 518.70,252.47 518.85,251.62 519.00,248.13 519.15,250.15 519.30,251.71 519.45,250.55 519.60,252.39 519.75,250.53 519.90,251.14 520.05,250.49 520.20,250.95 520.35,249.23 520.50,251.27 520.65,250.85 520.80,247.51 520.95,252.26 521.10,249.87 521.25,250.76 521.40,251.36 521.55,250.58 521.70,252.18 521.85,251.26 522.00,252.19 522.15,250.64 522.30,251.10 522.45,249.64 522.60,248.82 522.75,249.56 522.90,249.03 523.05,252.39 523.20,249.02 523.35,249.23 523.50,250.94 523.65,248.49 523.80,251.21 523.95,249.00 524.10,250.33 524.25,252.84 524.40,249.53 524.55,248.92 524.70,251.71 524.85,249.36 525.00,247.98 525.15,251.06 525.30,249.82 525.45,251.88 525.60,251.61 525.75,249.96 525.90,250.34 526.05,249.91 526.20,249.27 526.35,248.95 526.50,248.15 526.65,249.16 526.80,249.36 526.95,249.61 527.10,250.67 527.25,251.44 527.40,249.43 527.55,251.46 527.70,249.43 527.85,252.65 528.00,248.32 528.15,249.91 528.30,249.96 528.45,249.67 528.60,248.78 528.75,249.88 528.90,248.83 529.05,251.14 529.20,251.92 529.35,249.75 529.50,250.05 529.65,250.52 529.80,249.93 529.95,248.37 530.10,251.82 530.25,250.22 530.40,249.97 530.55,250.69 530.70,249.42 530.85,250.52 531.00,250.73 531.15,248.87 531.30,249.62 531.45,251.06 531.60,247.79 531.75,248.34 531.90,248.41 532.05,249.41 532.20,249.17 532.35,248.31 532.50,248.26 532.65,247.08 532.80,249.20 532.95,248.69 533.10,247.47 533.25,248.23 533.40,249.38 533.55,247.29 533.70,248.66 533.85,247.00 534.00,247.66 534.15,244.71 534.30,245.51 534.45,248.16 534.60,245.05 534.75,248.61 534.90,243.98 535.05,247.23 535.20,247.77 535.35,245.97 535.50,245.95 535.65,245.59 535.80,245.67 535.95,244.26 536.10,244.17 536.35,246.62 536.60,246.97 536.85,244.90 537.10,245.18 537.35,246.93 537.60,244.84 537.85,244.41 538.10,246.20 538.35,245.91 538.60,247.30 538.85,245.08 539.10,245.37 539.35,243.78 539.60,244.00 539.85,245.25 540.10,245.35 540.35,244.01 540.60,244.71 540.85,244.31 541.10,244.15 541.35,244.20 541.60,241.89 541.85,244.27 542.10,245.13 542.35,245.14 542.60,243.58 542.85,242.61 543.10,243.95 543.35,244.19 543.60,241.76 543.85,243.00 544.10,241.85 544.35,241.09 544.60,242.38 544.85,239.53 545.10,241.99 545.35,240.74 545.60,240.06 545.85,241.17 546.10,240.19 546.35,240.64 546.60,242.80 546.85,238.84 547.10,239.48 547.35,241.08 547.60,238.94 547.85,238.37 548.10,238.49 548.35,239.57 548.60,237.53 548.85,237.85 549.10,239.08 549.35,237.41 549.60,239.46 549.85,238.74 550.10,238.14 550.35,237.00 550.60,238.70 550.85,237.48 551.10,235.91 551.35,235.62 551.60,235.09 551.85,233.78 552.10,236.80 552.35,236.85 552.60,235.45 552.85,236.90 553.10,236.90 553.35,235.12 553.60,236.12 553.85,235.71 554.10,235.42 554.35,235.94 554.60,235.98 554.85,235.86 555.10,235.99 555.35,235.23 555.60,234.24 555.85,234.49 556.10,233.02 556.35,237.53 556.60,233.77 556.85,230.83 557.10,231.02 557.35,235.64 557.60,234.33 557.85,233.86 558.10,233.73 558.35,233.21 558.60,232.70 558.85,232.70 559.10,232.25 559.35,232.32 559.60,232.77 559.85,232.49 560.10,230.73 560.35,230.96 560.60,232.24 560.85,231.59 561.10,229.76 561.35,230.81 561.60,230.77 561.85,230.77 562.10,230.01 562.35,229.17 562.60,228.55 562.85,231.20 563.10,228.31 563.35,230.01 563.60,229.37 563.85,229.25 564.10,227.98 564.35,229.41 564.60,229.33 564.85,225.19 565.10,227.29 565.35,227.01 565.60,227.22 565.85,227.47 566.10,227.82 566.35,227.68 566.60,225.96 566.85,228.59 567.10,228.21 567.35,227.40 567.60,225.29 567.85,227.31 568.10,225.35 568.35,226.25 568.60,225.02 568.85,226.43 569.10,225.95 569.35,225.49 569.60,225.24 569.85,225.20 570.10,224.88 570.35,223.08 570.60,224.52 570.85,224.34 571.10,225.42 571.35,224.14 571.60,224.55 571.85,224.55 572.10,223.30 572.35,226.40 572.60,223.82 572.85,224.71 573.10,222.20 573.35,223.06 573.60,224.74 573.85,224.16 574.10,221.59 574.35,223.29 574.60,223.05 574.85,221.37 575.10,221.60 575.35,224.19 575.60,221.22 575.85,222.27 576.10,222.46 576.35,220.41 576.60,221.07 576.85,220.21 577.10,221.57 577.35,224.55 577.60,221.65 577.85,220.88 578.10,221.43 578.35,219.72 578.60,220.60 578.85,219.61 579.10,220.74 579.35,219.62 579.60,220.36 579.85,220.57 580.10,221.34 580.35,218.49 580.60,219.93 580.85,218.53 581.10,218.39 581.35,218.01 581.60,217.55 581.85,219.37 582.10,217.16 582.35,218.42 582.60,218.48 582.85,218.88 583.10,217.61 583.35,217.41 583.60,216.68 583.85,213.99 584.10,217.95 584.35,216.82 584.60,217.78 584.85,217.50 585.10,215.45 585.35,215.68 585.60,216.42 585.85,216.79 586.10,215.82 586.35,214.33 586.60,216.22 586.85,212.23 587.10,214.69 587.35,214.89 587.60,216.04 587.85,214.22 588.10,214.46 588.35,214.31 588.60,212.44 588.85,213.86 589.10,212.47 589.35,211.42 589.60,213.33 589.85,213.19 590.10,211.92 590.35,214.25 590.60,211.80 590.85,211.69 591.10,212.99 591.35,211.68 591.60,211.67 591.85,211.11 592.10,211.98 592.35,211.29 592.60,213.59 592.85,209.02 593.10,211.75 593.35,210.05 593.60,209.36 593.85,210.41 594.10,209.91 594.35,210.17 594.60,209.55 594.85,209.54 595.10,209.83 595.35,209.02 595.60,208.80 595.85,207.23 596.10,208.43 596.35,206.50 596.60,207.03 596.85,208.32 597.10,207.53 597.35,207.62 597.60,208.49 597.85,206.96 598.10,207.41 598.35,206.43 598.60,205.19 598.85,207.11 599.10,205.30 599.35,206.90 599.60,204.77 599.85,205.84 600.10,202.88 600.35,205.15 600.60,205.20 600.85,204.46 601.10,203.85 601.35,204.72 601.60,201.28 601.85,203.36 602.10,203.87 602.35,202.36 602.60,203.30 602.85,204.02 603.10,201.14 603.35,203.05 603.60,200.82 603.85,201.81 604.10,201.26 604.35,201.94 604.60,201.95 604.85,200.76 605.10,202.01 605.35,203.62 605.60,198.58 605.85,199.99 606.10,199.40 606.35,200.19 606.60,199.78 606.85,201.26 607.10,200.32 607.35,197.61 607.60,199.32 607.85,198.39 608.10,199.22 608.35,197.61 608.60,196.92 608.85,197.40 609.10,198.55 609.35,196.83 609.60,197.65 609.85,197.66 610.10,195.02 610.35,196.51 610.60,196.76 610.85,197.79 611.10,195.42 611.35,194.84 611.60,194.50 611.85,196.46 612.10,195.38 612.35,194.34 612.60,194.98 612.85,194.19 613.10,194.98 613.35,195.74 613.60,195.31 613.85,196.11 614.10,190.82 614.35,193.28 614.60,193.91 614.85,192.03 615.10,194.02 615.35,193.49 615.60,193.54 615.85,192.27 616.10,191.03 616.35,191.38 616.60,189.79 616.85,190.56 617.10,190.98 617.35,191.93 617.60,189.56 617.85,190.34 618.10,189.94 618.35,188.37 618.60,188.93 618.85,189.01 619.10,188.09 619.35,189.18 619.60,188.65 619.85,187.93 620.10,186.90 620.35,186.46 620.60,186.92 620.85,187.64 621.10,187.10 621.35,185.79 621.60,187.41 621.85,184.88 622.10,184.12 622.35,184.31 622.60,184.76 622.85,184.67 623.10,184.88 623.35,183.64 623.60,182.05 623.85,183.36 624.10,180.37 624.35,183.56 624.60,183.10 624.85,182.98 625.10,180.90 625.35,182.31 625.60,183.55 625.85,182.49 626.10,182.40 626.35,181.78 626.60,183.13 626.85,181.22 627.10,183.06 627.35,183.20 627.60,182.20 627.85,179.31 628.10,182.73 628.35,183.01 628.60,183.84 628.85,182.84 629.10,182.95 629.35,182.29 629.60,184.99 629.85,182.31 630.10,183.14 630.35,183.74 630.60,182.52 630.85,182.37 631.10,180.66 631.35,184.38 631.60,178.56 631.85,179.47 632.10,179.18 632.35,176.04 632.60,175.59 632.85,176.07 633.10,175.66 633.35,172.02 633.60,174.77 633.85,172.99 634.10,172.76 634.35,173.74 634.60,174.57 634.85,171.76 635.10,173.57 635.35,171.81 635.60,171.19 635.85,171.77 636.10,170.64 636.35,171.73 636.60,171.04 636.85,170.39 637.10,170.82 637.35,168.16 637.60,170.96 637.85,169.28 638.10,169.54 638.35,169.65 638.60,169.72 638.85,170.99 639.10,169.71 639.35,169.48 639.60,169.93 639.85,169.73 640.10,168.08 640.35,170.10 640.60,168.17 640.85,167.33 641.10,167.95 641.35,167.88 641.60,167.56 641.85,166.21 642.10,167.08 642.35,166.43 642.60,166.70 642.85,167.00 643.10,166.19 643.35,165.01 643.60,166.51 643.85,165.93 644.10,165.96 644.35,164.93 644.60,166.82 644.85,163.67 645.10,165.08 645.35,165.82 645.60,163.86 645.85,162.88 646.10,163.37 646.35,163.66 646.60,164.29 646.85,163.62 647.10,162.90 647.35,163.21 647.60,163.50 647.85,162.62 648.10,163.75 648.35,162.04 648.60,162.36 648.85,162.17 649.10,164.20 649.35,164.11 649.60,163.59 649.85,161.08 650.10,163.41 650.35,161.10 650.60,160.82 650.85,160.60 651.10,161.09 651.35,160.41 651.60,160.66 651.85,158.27 652.10,159.66 652.35,159.40 652.60,157.79 652.85,158.78 653.10,159.75 653.35,157.72 653.60,157.72 653.85,155.41 654.10,156.86 654.35,157.34 654.60,156.84 654.85,154.61 655.10,154.12 655.35,155.90 655.60,155.73 655.85,155.07 656.10,156.41 656.35,154.28 656.60,154.30 656.85,153.08 657.10,153.16 657.35,151.90 657.60,154.12 657.85,153.98 658.10,154.43 658.35,152.46 658.60,152.10 658.85,152.69 659.10,153.05 659.35,153.92 659.60,153.40 659.85,151.51 660.10,150.55 660.35,153.14 660.60,149.77 660.85,148.84 661.10,149.00 661.35,150.02 661.60,147.00 661.85,149.95 662.10,150.01 662.35,150.92 662.60,149.05 662.85,150.23 663.10,149.50 663.35,147.29 663.60,148.16 663.85,149.38 664.10,148.05 664.35,147.65 664.60,148.76 664.85,149.12 665.10,148.13 665.35,146.46 665.60,145.15 665.85,147.79 666.10,146.02 666.35,142.73 666.60,145.42 666.85,146.91 667.10,145.45 667.35,145.44 667.60,143.24 667.85,144.26 668.10,142.77 668.35,143.33 668.60,144.52 668.85,143.64 669.10,143.28 669.35,140.93 669.60,142.17 669.85,143.23 670.10,140.90 670.35,142.35 670.60,142.04 670.85,142.65 671.10,138.99 671.35,140.73 671.60,141.55 671.85,141.55 672.10,141.38 672.35,143.82 672.60,143.41 672.85,142.11 673.10,141.26 673.35,140.90 673.60,143.48 673.85,143.37 674.10,143.34 674.35,144.15 674.60,143.71 674.85,142.82 675.10,144.81 675.35,144.24 675.60,144.92 675.85,143.85 676.10,144.78 676.35,142.77 676.60,143.66 676.85,143.70 677.10,144.63 677.35,145.12 677.60,144.61 677.85,144.13 678.10,144.57 678.35,145.37 678.60,144.40 678.85,145.84 679.10,146.69 679.35,148.40 679.60,148.27 679.85,146.85 680.10,148.57 680.50,149.18 680.90,149.99 681.30,149.68 681.70,149.79 682.10,151.25 682.50,151.43 682.90,151.29 683.30,151.77 683.70,152.40 684.10,152.98 684.50,152.30 684.90,152.71 685.30,153.01 685.70,152.80 686.10,153.34 686.50,153.35 686.90,153.23 687.30,152.90 687.70,153.60 688.10,153.48 688.50,153.89 688.90,153.05 689.30,153.42 689.70,153.31 690.10,153.48 690.50,153.87 690.90,153.34 691.30,152.82 691.70,152.34 692.10,152.27 692.50,152.08 692.90,151.85 693.30,152.07 693.70,151.62 694.10,150.78 694.50,150.87 694.90,151.05 695.30,150.83 695.70,150.58 696.10,150.16 696.50,150.40 696.90,149.74 697.30,149.85 697.70,149.72 698.10,148.95 698.50,149.18 698.90,148.43 699.30,147.98 699.70,147.58 700.10,146.02 700.40,148.03 700.70,146.63 701.00,147.60 701.30,145.56 701.60,145.49 701.90,144.21 702.20,143.47 702.50,144.13 702.80,143.23 703.10,143.63 703.40,142.02 703.70,142.42 704.00,142.00 704.30,141.72 704.60,142.10 704.90,141.63 705.20,141.18 705.50,140.34 705.80,140.97 706.10,140.28 706.40,138.57 706.70,139.95 707.00,138.43 707.30,138.81 707.60,138.85 707.90,140.11 708.20,138.66 708.50,137.76 708.80,138.88 709.10,136.20 709.40,137.76 709.70,137.34 710.00,136.75 710.30,136.03 710.60,136.52 710.90,136.00 711.20,135.47 711.50,136.38 711.80,136.54 712.10,135.62 712.40,135.69 712.70,134.87 713.00,134.20 713.30,134.43 713.60,134.96 713.90,133.13 714.20,133.53 714.50,133.55 714.80,131.49 715.10,132.44 715.40,131.50 715.70,133.65 716.00,131.76 716.30,132.00 716.60,130.44 716.90,131.32 717.20,131.00 717.50,130.74 717.80,130.69 718.10,130.35 718.40,130.06 718.70,129.49 719.00,130.17 719.30,127.23 719.60,128.46 719.90,130.11"/>
</g>
<!-- spines -->
<g stroke="#000" stroke-width="1.5" fill="none">
<rect x="100" y="60" width="620" height="480"/>
</g>
<rect x="101" y="539" width="618" height="1" fill="#4e2450"/>
<!-- ticks -->
<g stroke="#000" stroke-width="0.7">
<line x1="100" x2="106.7" y1="456.50" y2="456.50"/><line x1="720" x2="714.6" y1="456.50" y2="456.50"/>
<line x1="100" x2="106.7" y1="373.50" y2="373.50"/><line x1="720" x2="714.6" y1="373.50" y2="373.50"/>
<line x1="100" x2="106.7" y1="289.50" y2="289.50"/><line x1="720" x2="714.6" y1="289.50" y2="289.50"/>
<line x1="100" x2="106.7" y1="206.50" y2="206.50"/><line x1="720" x2="714.6" y1="206.50" y2="206.50"/>
<line x1="100" x2="106.7" y1="122.50" y2="122.50"/><line x1="720" x2="714.6" y1="122.50" y2="122.50"/>
<line x1="153.50" x2="153.50" y1="540" y2="535.3"/><line x1="153.50" x2="153.50" y1="60" y2="66.8"/>
<line x1="290.50" x2="290.50" y1="540" y2="535.3"/><line x1="290.50" x2="290.50" y1="60" y2="66.8"/>
<line x1="428.50" x2="428.50" y1="540" y2="535.3"/><line x1="428.50" x2="428.50" y1="60" y2="66.8"/>
<line x1="566.50" x2="566.50" y1="540" y2="535.3"/><line x1="566.50" x2="566.50" y1="60" y2="66.8"/>
<line x1="704.50" x2="704.50" y1="540" y2="535.3"/><line x1="704.50" x2="704.50" y1="60" y2="66.8"/>
</g>
<!-- legend -->
<rect x="112.5" y="69.5" width="202.5" height="74" fill="#fff" stroke="#000" stroke-width="1.39"/>
<g stroke-width="0.7">
<line x1="131" x2="162.7" y1="80.5" y2="80.5" stroke="#ff0000"/>
<line x1="131" x2="162.7" y1="96.5" y2="96.5" stroke="#0000ff"/>
<line x1="131" x2="162.7" y1="113.5" y2="113.5" stroke="#800080"/>
<line x1="131" x2="162.7" y1="130.5" y2="130.5" stroke="#008000"/>
</g>
<g font-size="13.89px">
<text x="175.4" y="83.6">MV70</text>
<text x="175.4" y="98.5">ILE_WALL</text>
<text x="175.4" y="115.7">ILE_EXHAUST_AIR</text>
<text x="175.4" y="132.4">ILE_INTAKE</text>
</g>
<text x="409.8" y="44.75" font-size="19.44px" text-anchor="middle" letter-spacing="0.12">APOLLO ILE Temperatures</text>
<g font-size="16.67px" text-anchor="end" letter-spacing="-0.6">
<text x="96.1" y="544.70">0</text>
<text x="96.1" y="460.70">5</text>
<text x="96.1" y="377.70">10</text>
<text x="96.1" y="293.70">15</text>
<text x="96.1" y="210.70">20</text>
<text x="96.1" y="126.70">25</text>
</g>
<g font-size="16.67px" text-anchor="middle">
<text x="154.10" y="555.8" letter-spacing="-0.65">15:00</text><text x="153.30" y="570" letter-spacing="-0.4">Jun 17</text>
<text x="291.10" y="555.8" letter-spacing="-0.65">23:00</text><text x="290.30" y="570" letter-spacing="-0.4">Jun 17</text>
<text x="429.10" y="555.8" letter-spacing="-0.65">07:00</text><text x="428.30" y="570" letter-spacing="-0.4">Jun 18</text>
<text x="567.10" y="555.8" letter-spacing="-0.65">15:00</text><text x="566.30" y="570" letter-spacing="-0.4">Jun 18</text>
<text x="705.10" y="555.8" letter-spacing="-0.65">23:00</text><text x="704.30" y="570" letter-spacing="-0.4">Jun 18</text>
<text x="410" y="591.75">Date (GMT)</text>
<text transform="translate(68.8,299.5) rotate(-90)" letter-spacing="-0.36">Temperature (C)</text>
</g>
</svg>
</body></html>
